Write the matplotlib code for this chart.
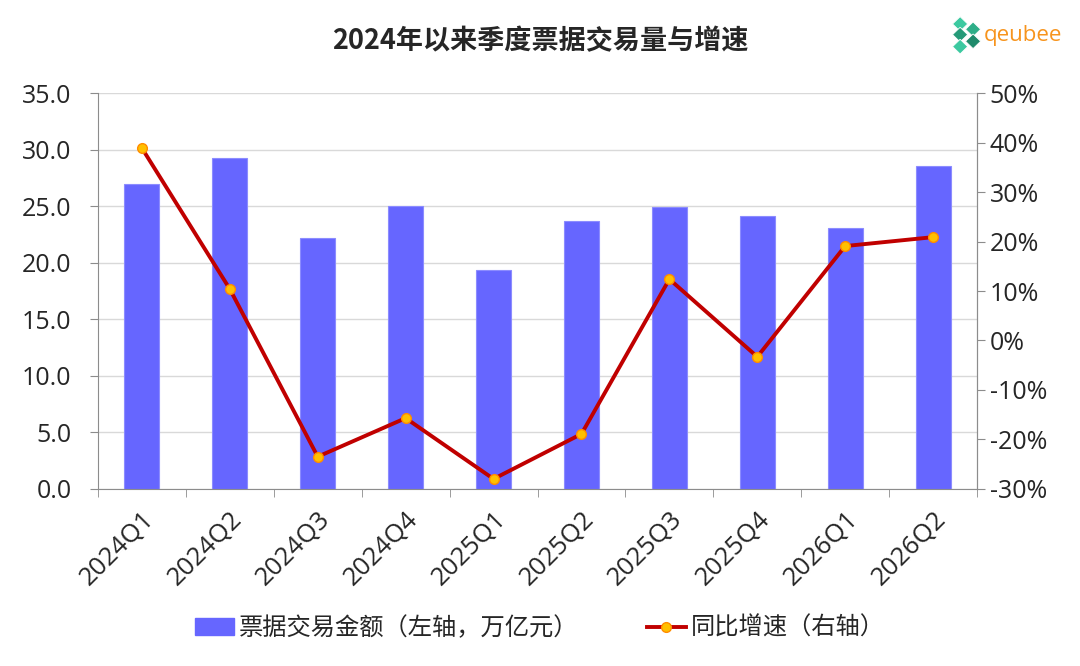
import matplotlib
matplotlib.use('Agg')
from matplotlib import pyplot as plt
from matplotlib.patches import Polygon
from matplotlib.lines import Line2D
from matplotlib.patches import Patch
import numpy as np

plt.rcParams['font.family'] = ['Noto Sans CJK SC', 'DejaVu Sans']

quarters = ['2024Q1', '2024Q2', '2024Q3', '2024Q4', '2025Q1',
            '2025Q2', '2025Q3', '2025Q4', '2026Q1', '2026Q2']
volume = [27.0, 29.3, 22.2, 25.0, 19.4, 23.7, 24.9, 24.1, 23.1, 28.6]
growth = [38.9, 10.4, -23.5, -15.7, -28.0, -18.9, 12.4, -3.3, 19.1, 20.9]

num_font = ['Open Sans', 'DejaVu Sans']

fig = plt.figure(figsize=(10.8, 6.66), dpi=100)
ax = fig.add_axes([0.0907, 0.266, 0.814, 0.594])
x = np.arange(len(quarters))
ax.bar(x, volume, width=0.4, color='#6666FF', edgecolor='#8C8CFF', linewidth=0.8, zorder=2)
ax.set_xlim(-0.5, len(quarters) - 0.5)
ax.set_ylim(0, 35)
ax.set_yticks(np.arange(0, 35.1, 5))
ax.set_yticklabels(['%.1f' % v for v in np.arange(0, 35.1, 5)], family=num_font)
ax.grid(axis='y', color='#D9D9D9', linewidth=1, zorder=0)
ax.set_axisbelow(True)
ax.set_xticks(x)
ax.set_xticklabels(quarters, rotation=45, ha='right', rotation_mode='anchor', family=num_font)
ax.set_xticks(np.arange(-0.5, len(quarters), 1), minor=True)
ax.tick_params(axis='x', which='major', length=0, labelsize=18.5, colors='#262626', pad=13)
ax.tick_params(axis='x', which='minor', length=6, color='#8C8C8C')
ax.tick_params(axis='y', labelsize=18, colors='#262626', length=6, color='#8C8C8C', pad=13)
ax.spines['top'].set_visible(False)
for s in ['left', 'bottom', 'right']:
    ax.spines[s].set_color('#8C8C8C')

ax2 = ax.twinx()
ax2.plot(x, growth, color='#C00000', linewidth=2.8, marker='o', markersize=7,
         markerfacecolor='#FFC000', markeredgecolor='#FF8C00', markeredgewidth=1, zorder=3)
ax2.set_ylim(-30, 50)
ax2.set_yticks(np.arange(-30, 51, 10))
ax2.set_yticklabels(['%d%%' % v for v in np.arange(-30, 51, 10)], family=num_font)
ax2.tick_params(axis='y', labelsize=18, colors='#262626', length=6, color='#8C8C8C', pad=3)
ax2.spines['top'].set_visible(False)
ax2.spines['right'].set_color('#8C8C8C')
ax2.spines['left'].set_visible(False)
ax2.spines['bottom'].set_visible(False)
ax2.set_xlim(-0.5, len(quarters) - 0.5)

fig.text(0.5, 0.938, '2024年以来季度票据交易量与增速', ha='center', va='center',
         fontsize=19.5, fontweight='bold', color='#262626')

# logo
fig.text(0.911, 0.946, 'qeubee', ha='left', va='center', fontsize=16,
         color='#F7941D', family=num_font)
cx, cy = 0.895, 0.946
greens = ['#3CC9A0', '#2EAE88', '#259A78', '#1F8A6B']
offs = [(-0.006, 0.018), (0.006, 0.010), (-0.006, 0.002), (0.006, -0.008), (-0.006, -0.016)]
for i, (dx, dy) in enumerate(offs):
    px, py = cx + dx, cy + dy
    w, h = 0.007, 0.011
    poly = Polygon([(px - w, py), (px, py + h), (px + w, py), (px, py - h)],
                   closed=True, transform=fig.transFigure,
                   facecolor=greens[i % 4], edgecolor='white', linewidth=0.6)
    fig.patches.append(poly)

handles = [Patch(facecolor='#6666FF', edgecolor='#6666FF'),
           Line2D([0], [0], color='#C00000', linewidth=2.8, marker='o', markersize=7,
                  markerfacecolor='#FFC000', markeredgecolor='#FF8C00')]
fig.legend(handles, ['票据交易金额（左轴，万亿元）', '同比增速（右轴）'],
           loc='center', bbox_to_anchor=(0.5, 0.057), ncol=2, frameon=False,
           fontsize=17.5, handlelength=1.6, handletextpad=0.2, columnspacing=2.8,
           labelcolor='#262626')

fig.savefig('out.png', dpi=100)
